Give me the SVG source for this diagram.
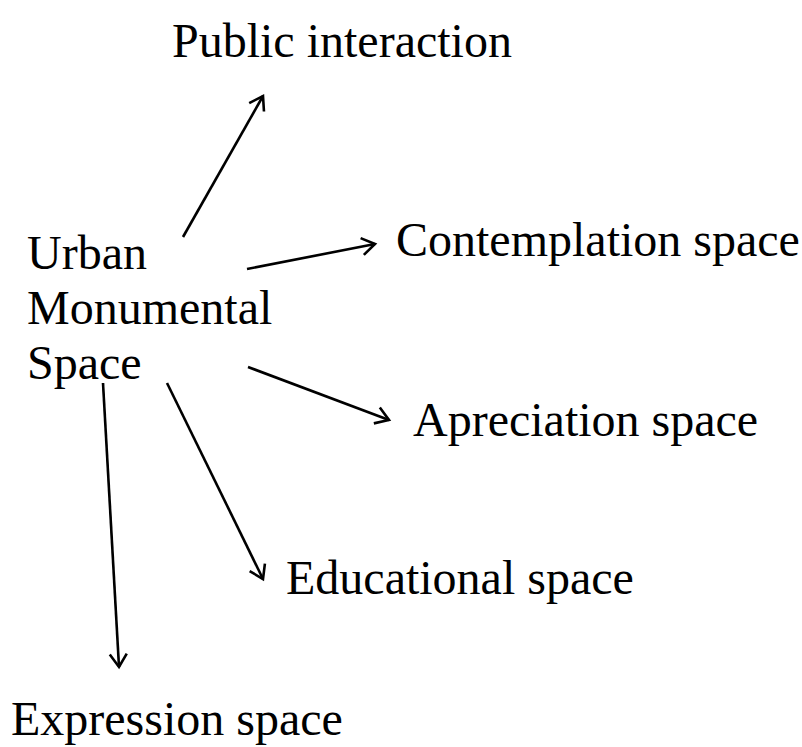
<svg xmlns="http://www.w3.org/2000/svg" width="802" height="747" viewBox="0 0 802 747">
<style>
text{font-family:"Liberation Serif","Times New Roman",serif;font-size:48px;fill:#000}
.c line{stroke:#000;stroke-width:2.6;fill:none}
</style>
<defs>
<marker id="ah" markerUnits="userSpaceOnUse" viewBox="-16 -12 20 24" refX="0" refY="0" markerWidth="20" markerHeight="24" orient="auto">
<path d="M-13,-8.5 L0,0 L-13,8.5" fill="none" stroke="#000" stroke-width="2.6"/>
</marker>
</defs>
<rect width="802" height="747" fill="#fff"/>
<g id="center"><text x="27" y="269">Urban</text><text x="27" y="324">Monumental</text><text x="27" y="379">Space</text></g>
<g id="public"><text x="172" y="57">Public interaction</text></g>
<g id="contemplation"><text x="396" y="256">Contemplation space</text></g>
<g id="apreciation"><text x="413" y="436">Apreciation space</text></g>
<g id="educational"><text x="286" y="594">Educational space</text></g>
<g id="expression"><text x="11" y="735">Expression space</text></g>
<g class="c" id="connectors">
<line x1="183" y1="237" x2="263" y2="96" marker-end="url(#ah)"/>
<line x1="247" y1="269" x2="375" y2="244" marker-end="url(#ah)"/>
<line x1="248" y1="367" x2="389" y2="420" marker-end="url(#ah)"/>
<line x1="103" y1="383" x2="119" y2="667" marker-end="url(#ah)"/>
<line x1="167" y1="383" x2="263" y2="579" marker-end="url(#ah)"/>
</g>
</svg>
